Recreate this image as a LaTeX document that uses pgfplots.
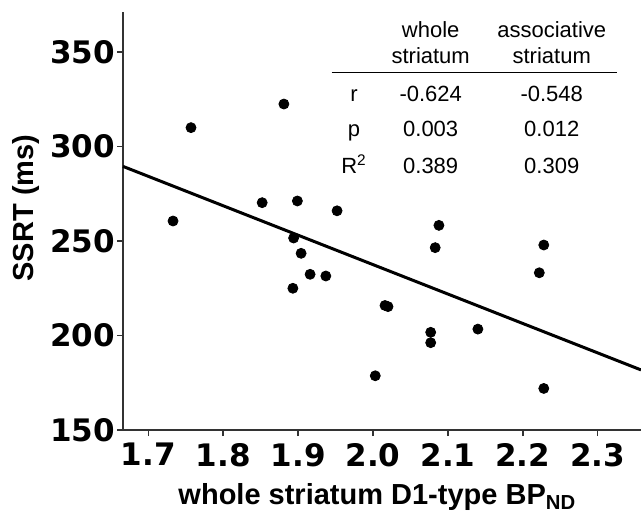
\documentclass[border=0pt]{standalone}
\usepackage{pgfplots}
\pgfplotsset{compat=1.18}
\usepackage{fontspec}
\setmainfont{Liberation Sans}
\newfontfamily\tickfont{DejaVu Sans}

\begin{document}
\begin{tikzpicture}
\begin{axis}[
  scale only axis,
  width=259pt, height=209pt,
  xmin=1.6662, xmax=2.3578,
  ymin=150, ymax=371.2,
  axis x line*=bottom, axis y line*=left,
  axis line style={draw=black!80, line width=0.75pt},
  xtick={1.7,1.8,...,2.3}, ytick={150,200,...,350},
  tick align=outside, major tick length=3pt,
  tick style={draw=black!80, line width=0.75pt},
  minor tick num=0,
  /pgf/number format/assume math mode=true,
  ticklabel style={font=\tickfont\bfseries\fontsize{15.5}{18}\selectfont},
  xticklabel style={/pgf/number format/.cd, fixed, fixed zerofill, precision=1},
  yticklabel style={/pgf/number format/.cd, fixed, precision=0, /tikz/xshift=2.5pt},
  xlabel={whole striatum D1-type BP\textsubscript{ND}},
  ylabel={SSRT (ms)},
  label style={font=\bfseries\fontsize{14.5}{17}\selectfont},
  xlabel style={at={(axis description cs:0.491,-0.179)}, anchor=base},
  ylabel style={at={(axis description cs:-0.187,0.531)}, anchor=center},
  clip=false,
]
\addplot[only marks, mark=*, mark size=2.5pt, black] coordinates {
  (1.881,322.5) (1.757,310.0) (1.733,260.6) (1.852,270.3) (1.899,271.2)
  (1.952,266.0) (1.894,251.6) (1.904,243.5) (1.916,232.4) (1.937,231.5)
  (1.893,225.0) (2.016,215.9) (2.020,215.3) (2.003,178.7) (2.088,258.3)
  (2.083,246.5) (2.077,201.7) (2.077,196.2) (2.140,203.4) (2.228,247.9)
  (2.222,233.2) (2.228,172.0)
};
\addplot[black, line width=1.5pt] coordinates {(1.6662,289.5) (2.3578,181.8)};

% statistics table
\draw[black, line width=0.6pt] (axis cs:1.9449,339.05) -- (axis cs:2.3262,339.05);
\begin{scope}[every node/.style={font=\fontsize{11}{13}\selectfont, anchor=base, inner sep=0pt}]
\node at (axis cs:2.077,357.6) {whole};
\node at (axis cs:2.077,344.0) {striatum};
\node at (axis cs:2.2386,357.6) {associative};
\node at (axis cs:2.2386,344.0) {striatum};
\node at (axis cs:1.9747,324.1) {r};
\node at (axis cs:1.9747,305.2) {p};
\node at (axis cs:1.9747,285.8) {R\textsuperscript{2}};
\node at (axis cs:2.077,324.1) {-0.624};
\node at (axis cs:2.077,305.2) {0.003};
\node at (axis cs:2.077,285.8) {0.389};
\node at (axis cs:2.2386,324.1) {-0.548};
\node at (axis cs:2.2386,305.2) {0.012};
\node at (axis cs:2.2386,285.8) {0.309};
\end{scope}

\coordinate (bl) at (rel axis cs:0,0);
\coordinate (tr) at (rel axis cs:1,1);
\end{axis}
\pgfresetboundingbox
\path ([shift={(-61.5pt,-42.5pt)}]bl) rectangle ([shift={(0pt,6pt)}]tr);
\end{tikzpicture}
\end{document}
